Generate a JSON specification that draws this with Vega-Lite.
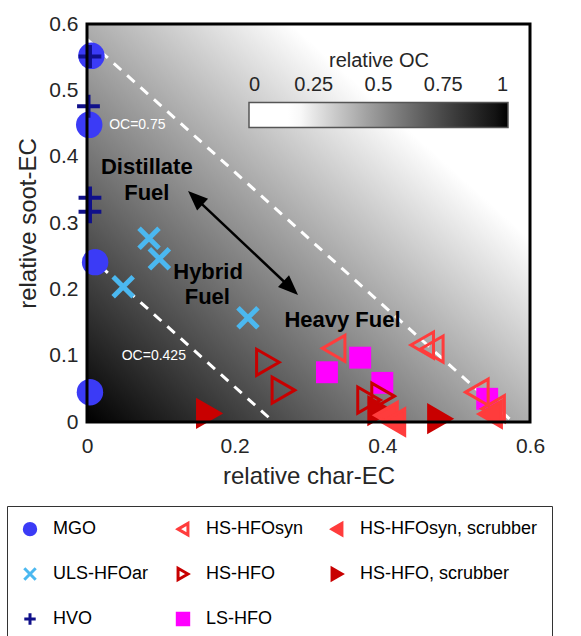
{
  "$schema": "https://vega.github.io/schema/vega-lite/v6.json",
  "width": 443,
  "height": 398,
  "autosize": {"type": "none"},
  "padding": {"left": 87, "top": 24, "right": 51, "bottom": 214},
  "background": "#ffffff",
  "datasets": {
    "points": [
      {"fuel": "MGO", "c": 0.006, "s": 0.552},
      {"fuel": "MGO", "c": 0.003, "s": 0.448},
      {"fuel": "MGO", "c": 0.011, "s": 0.241},
      {"fuel": "MGO", "c": 0.004, "s": 0.045},
      {"fuel": "HVO", "c": 0.004, "s": 0.551},
      {"fuel": "HVO", "c": 0.002, "s": 0.476},
      {"fuel": "HVO", "c": 0.004, "s": 0.338},
      {"fuel": "HVO", "c": 0.004, "s": 0.317},
      {"fuel": "ULS-HFOar", "c": 0.084, "s": 0.277},
      {"fuel": "ULS-HFOar", "c": 0.098, "s": 0.246},
      {"fuel": "ULS-HFOar", "c": 0.049, "s": 0.204},
      {"fuel": "ULS-HFOar", "c": 0.218, "s": 0.157},
      {"fuel": "LS-HFO", "c": 0.325, "s": 0.075},
      {"fuel": "LS-HFO", "c": 0.370, "s": 0.097},
      {"fuel": "LS-HFO", "c": 0.400, "s": 0.059},
      {"fuel": "LS-HFO", "c": 0.542, "s": 0.035},
      {"fuel": "HS-HFO", "c": 0.245, "s": 0.090},
      {"fuel": "HS-HFO", "c": 0.266, "s": 0.048},
      {"fuel": "HS-HFO", "c": 0.382, "s": 0.033},
      {"fuel": "HS-HFO", "c": 0.401, "s": 0.039},
      {"fuel": "HS-HFO, scrubber", "c": 0.165, "s": 0.013},
      {"fuel": "HS-HFO, scrubber", "c": 0.397, "s": 0.017},
      {"fuel": "HS-HFO, scrubber", "c": 0.478, "s": 0.005},
      {"fuel": "HS-HFOsyn", "c": 0.334, "s": 0.111},
      {"fuel": "HS-HFOsyn", "c": 0.454, "s": 0.116},
      {"fuel": "HS-HFOsyn", "c": 0.467, "s": 0.110},
      {"fuel": "HS-HFOsyn", "c": 0.528, "s": 0.045},
      {"fuel": "HS-HFOsyn", "c": 0.550, "s": 0.020},
      {"fuel": "HS-HFOsyn, scrubber", "c": 0.405, "s": 0.010},
      {"fuel": "HS-HFOsyn, scrubber", "c": 0.415, "s": 0.000},
      {"fuel": "HS-HFOsyn, scrubber", "c": 0.546, "s": 0.012}
    ],
    "frame": [{"c0": 0, "c1": 0.6, "s0": 0, "s1": 0.6}],
    "isolines": [
      {"label": "OC=0.75", "c1": 0, "s1": 0.577, "c2": 0.577, "s2": 0, "lc": 0.030, "ls": 0.448},
      {"label": "OC=0.425", "c1": 0, "s1": 0.253, "c2": 0.253, "s2": 0, "lc": 0.047, "ls": 0.0995}
    ],
    "arrow": [
      {"end": "distillate", "c": 0.1467, "s": 0.338},
      {"end": "heavy", "c": 0.276, "s": 0.202}
    ],
    "annotations": [
      {"text": "Distillate", "c": 0.081, "s": 0.385},
      {"text": "Fuel", "c": 0.081, "s": 0.345},
      {"text": "Hybrid", "c": 0.164, "s": 0.226},
      {"text": "Fuel", "c": 0.163, "s": 0.189},
      {"text": "Heavy Fuel", "c": 0.346, "s": 0.154}
    ],
    "ocScale": [{"OC": 0}, {"OC": 1}]
  },
  "layer": [
    {
      "data": {"name": "frame"},
      "mark": {
        "type": "rect",
        "fill": {
          "gradient": "linear", "x1": 0, "y1": 1, "x2": 1, "y2": 0,
          "stops": [
            {"offset": 0, "color": "#000000"},
            {"offset": 0.73, "color": "#ffffff"},
            {"offset": 1, "color": "#ffffff"}
          ]
        }
      },
      "encoding": {
        "x": {"field": "c0", "type": "quantitative", "scale": {"domain": [0, 0.6], "nice": false},
              "axis": {"title": "relative char-EC", "values": [0, 0.2, 0.4, 0.6], "format": "~g", "labelFlush": false, "labelPadding": 13, "titlePadding": 8}},
        "x2": {"field": "c1"},
        "y": {"field": "s0", "type": "quantitative", "scale": {"domain": [0, 0.6], "nice": false},
              "axis": {"title": "relative soot-EC", "values": [0, 0.1, 0.2, 0.3, 0.4, 0.5, 0.6], "format": "~g", "labelFlush": false, "labelPadding": 9, "titlePadding": 8}},
        "y2": {"field": "s1"}
      }
    },
    {
      "data": {"name": "isolines"},
      "mark": {"type": "rule", "color": "#ffffff", "strokeWidth": 3, "strokeDash": [10, 8]},
      "encoding": {
        "x": {"field": "c1", "type": "quantitative"},
        "y": {"field": "s1", "type": "quantitative"},
        "x2": {"field": "c2"},
        "y2": {"field": "s2"}
      }
    },
    {
      "data": {"name": "isolines"},
      "mark": {"type": "text", "color": "#ffffff", "font": "Liberation Sans", "fontSize": 14, "align": "left", "baseline": "middle"},
      "encoding": {
        "x": {"field": "lc", "type": "quantitative"},
        "y": {"field": "ls", "type": "quantitative"},
        "text": {"field": "label"}
      }
    },
    {
      "data": {"name": "arrow"},
      "mark": {"type": "line", "color": "#000000", "strokeWidth": 2.5},
      "encoding": {
        "x": {"field": "c", "type": "quantitative"},
        "y": {"field": "s", "type": "quantitative"}
      }
    },
    {
      "data": {"name": "arrow"},
      "transform": [{"filter": {"field": "end", "equal": "heavy"}}],
      "mark": {"type": "point", "shape": "M1,0L-1,-0.8L-1,0.8Z", "filled": true, "color": "#000000", "opacity": 1, "size": 400, "angle": 43.4},
      "encoding": {
        "x": {"field": "c", "type": "quantitative"},
        "y": {"field": "s", "type": "quantitative"}
      }
    },
    {
      "data": {"name": "arrow"},
      "transform": [{"filter": {"field": "end", "equal": "distillate"}}],
      "mark": {"type": "point", "shape": "M1,0L-1,-0.8L-1,0.8Z", "filled": true, "color": "#000000", "opacity": 1, "size": 400, "angle": 223.4},
      "encoding": {
        "x": {"field": "c", "type": "quantitative"},
        "y": {"field": "s", "type": "quantitative"}
      }
    },
    {
      "data": {"name": "annotations"},
      "mark": {"type": "text", "color": "#000000", "font": "Liberation Sans", "fontSize": 22, "fontWeight": "bold", "align": "center", "baseline": "middle"},
      "encoding": {
        "x": {"field": "c", "type": "quantitative"},
        "y": {"field": "s", "type": "quantitative"},
        "text": {"field": "text"}
      }
    },
    {
      "data": {"name": "points"},
      "encoding": {
        "x": {"field": "c", "type": "quantitative"},
        "y": {"field": "s", "type": "quantitative"},
        "shape": {
          "field": "fuel", "type": "nominal",
          "scale": {
            "domain": ["MGO", "ULS-HFOar", "HVO", "HS-HFOsyn", "HS-HFO", "LS-HFO", "HS-HFOsyn, scrubber", "HS-HFO, scrubber"],
            "range": ["circle", "M-1,-1L1,1M-1,1L1,-1", "M-1,0L1,0M0,-1L0,1", "triangle-left", "triangle-right", "square", "triangle-left", "triangle-right"]
          },
          "legend": {"orient": "none", "legendX": -80, "legendY": 482, "columns": 3, "gridAlign": "each", "title": null, "symbolSize": 130, "symbolStrokeWidth": 3, "labelFont": "Liberation Sans", "labelFontSize": 18, "labelColor": "#000000", "labelOffset": 14, "rowPadding": 21, "columnPadding": 22, "padding": 14, "strokeColor": "#333333", "labelLimit": 400}
        },
        "fill": {
          "field": "fuel", "type": "nominal",
          "scale": {
            "domain": ["MGO", "ULS-HFOar", "HVO", "HS-HFOsyn", "HS-HFO", "LS-HFO", "HS-HFOsyn, scrubber", "HS-HFO, scrubber"],
            "range": ["#3b3bf6", "transparent", "transparent", "transparent", "transparent", "#ff00ff", "#ff3c3c", "#c80000"]
          },
          "legend": {"orient": "none", "legendX": -80, "legendY": 482, "columns": 3, "gridAlign": "each", "title": null, "symbolSize": 130, "symbolStrokeWidth": 3, "labelFont": "Liberation Sans", "labelFontSize": 18, "labelColor": "#000000", "labelOffset": 14, "rowPadding": 21, "columnPadding": 22, "padding": 14, "strokeColor": "#333333", "labelLimit": 400}
        },
        "stroke": {
          "field": "fuel", "type": "nominal",
          "scale": {
            "domain": ["MGO", "ULS-HFOar", "HVO", "HS-HFOsyn", "HS-HFO", "LS-HFO", "HS-HFOsyn, scrubber", "HS-HFO, scrubber"],
            "range": ["#3b3bf6", "#4bb8f0", "#10108a", "#ff3c3c", "#c80000", "#ff00ff", "#ff3c3c", "#c80000"]
          },
          "legend": {"orient": "none", "legendX": -80, "legendY": 482, "columns": 3, "gridAlign": "each", "title": null, "symbolSize": 130, "symbolStrokeWidth": 3, "labelFont": "Liberation Sans", "labelFontSize": 18, "labelColor": "#000000", "labelOffset": 14, "rowPadding": 21, "columnPadding": 22, "padding": 14, "strokeColor": "#333333", "labelLimit": 400}
        }
      },
      "layer": [
        {
          "transform": [{"filter": {"field": "fuel", "equal": "MGO"}}],
          "mark": {"type": "point", "size": 700, "strokeWidth": 0, "opacity": 1}
        },
        {
          "transform": [{"filter": {"field": "fuel", "equal": "HVO"}}],
          "mark": {"type": "point", "size": 520, "strokeWidth": 4, "opacity": 1}
        },
        {
          "transform": [{"filter": {"field": "fuel", "equal": "ULS-HFOar"}}],
          "mark": {"type": "point", "size": 400, "strokeWidth": 5, "opacity": 1}
        },
        {
          "transform": [{"filter": {"field": "fuel", "equal": "LS-HFO"}}],
          "mark": {"type": "point", "size": 480, "strokeWidth": 0, "opacity": 1}
        },
        {
          "transform": [{"filter": {"field": "fuel", "oneOf": ["HS-HFO", "HS-HFO, scrubber", "HS-HFOsyn", "HS-HFOsyn, scrubber"]}}],
          "mark": {"type": "point", "size": 680, "strokeWidth": 3, "opacity": 1}
        }
      ]
    },
    {
      "data": {"name": "ocScale"},
      "mark": {"type": "point", "size": 0, "opacity": 0},
      "encoding": {
        "color": {
          "field": "OC", "type": "quantitative",
          "scale": {"domain": [0, 0.18, 1], "range": ["#ffffff", "#ffffff", "#000000"]},
          "legend": {"orient": "none", "legendX": 162, "legendY": 26.5, "direction": "horizontal", "gradientLength": 259, "gradientThickness": 25, "title": "relative OC", "titleAnchor": "middle", "titleFont": "Liberation Sans", "titleFontSize": 20, "titleFontWeight": "normal", "titleColor": "#262626", "titlePadding": 32, "labelOffset": -52.5, "labelFont": "Liberation Sans", "labelFontSize": 20, "labelColor": "#262626", "values": [0, 0.25, 0.5, 0.75, 1], "labelExpr": "format(datum.value, '~g')", "gradientStrokeColor": "#555555", "gradientStrokeWidth": 1.5, "labelOverlap": false, "padding": 0}
        }
      }
    },
    {
      "data": {"name": "frame"},
      "mark": {"type": "rect", "fill": "transparent", "stroke": "#000000", "strokeWidth": 3},
      "encoding": {
        "x": {"field": "c0", "type": "quantitative"},
        "x2": {"field": "c1"},
        "y": {"field": "s0", "type": "quantitative"},
        "y2": {"field": "s1"}
      }
    }
  ],
  "config": {
    "view": {"stroke": null},
    "font": "Liberation Sans",
    "axis": {"domain": false, "ticks": false, "tickSize": 0, "grid": false, "labelFont": "Liberation Sans", "labelFontSize": 21, "labelColor": "#262626", "titleFont": "Liberation Sans", "titleFontSize": 24, "titleFontWeight": "normal", "titleColor": "#262626"}
  }
}
